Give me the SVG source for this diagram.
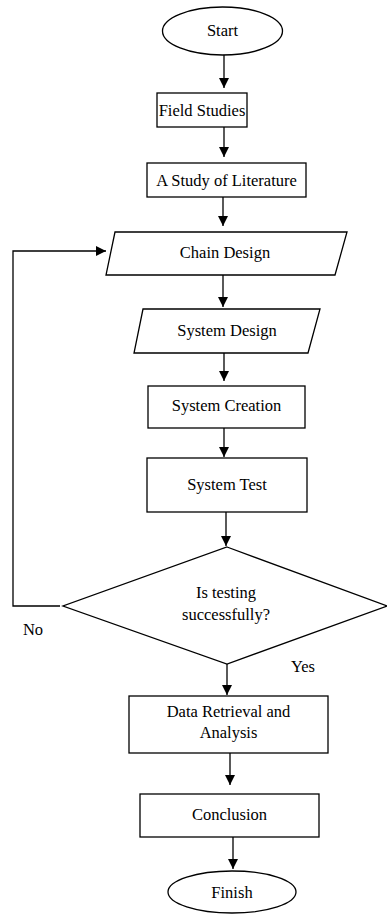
<svg xmlns="http://www.w3.org/2000/svg" width="387" height="914" viewBox="0 0 387 914">
<style>
.s{fill:#fff;stroke:#000;stroke-width:1.3}
.t{font-family:'Liberation Serif','DejaVu Serif',serif;font-size:16.5px;fill:#000;text-anchor:middle}
.c{fill:none;stroke:#000;stroke-width:1.3}
</style>
<defs>
<marker id="a" viewBox="0 0 10 10" refX="10" refY="5" markerWidth="10" markerHeight="10" markerUnits="userSpaceOnUse" orient="auto">
<path d="M0,0 L10,5 L0,10 z" fill="#000"/>
</marker>
</defs>
<rect width="387" height="914" fill="#fff"/>
<g id="connectors">
<path class="c" d="M224,55 V88" marker-end="url(#a)"/>
<path class="c" d="M224,127 V157" marker-end="url(#a)"/>
<path class="c" d="M223,197 V226" marker-end="url(#a)"/>
<path class="c" d="M223,275 V307" marker-end="url(#a)"/>
<path class="c" d="M224,353 V381" marker-end="url(#a)"/>
<path class="c" d="M224,428 V457" marker-end="url(#a)"/>
<path class="c" d="M226,512 V546" marker-end="url(#a)"/>
<path class="c" d="M60,606 H13 V251 H106" marker-end="url(#a)"/>
<path class="c" d="M227,664 V695" marker-end="url(#a)"/>
<path class="c" d="M230,753 V785" marker-end="url(#a)"/>
<path class="c" d="M233,837 V869" marker-end="url(#a)"/>
<text class="t" x="33" y="635">No</text>
<text class="t" x="303" y="672">Yes</text>
</g>
<g id="start">
<ellipse class="s" cx="222.5" cy="31" rx="60" ry="24"/>
<text class="t" x="222.5" y="36">Start</text>
</g>
<g id="field">
<rect class="s" x="157" y="93" width="90" height="34"/>
<text class="t" x="202" y="115.5">Field Studies</text>
</g>
<g id="literature">
<rect class="s" x="147" y="163" width="159" height="34"/>
<text class="t" x="226.5" y="185.5">A Study of Literature</text>
</g>
<g id="chain">
<polygon class="s" points="115,232 347,232 335,275 106,275"/>
<text class="t" x="225" y="258">Chain Design</text>
</g>
<g id="sysdesign">
<polygon class="s" points="143,309 320,309 308,353 134,353"/>
<text class="t" x="227" y="336">System Design</text>
</g>
<g id="creation">
<rect class="s" x="148" y="386" width="157" height="42"/>
<text class="t" x="226.5" y="411">System Creation</text>
</g>
<g id="test">
<rect class="s" x="147" y="458" width="160" height="54"/>
<text class="t" x="227" y="490">System Test</text>
</g>
<g id="decision">
<polygon class="s" points="227,547 387,606 227,664 63,606"/>
<text class="t" x="226" y="598">Is testing</text>
<text class="t" x="226" y="620">successfully?</text>
</g>
<g id="data">
<rect class="s" x="129" y="696" width="199" height="57"/>
<text class="t" x="228.5" y="717">Data Retrieval and</text>
<text class="t" x="228.5" y="738">Analysis</text>
</g>
<g id="conclusion">
<rect class="s" x="140" y="794" width="179" height="43"/>
<text class="t" x="229.5" y="820">Conclusion</text>
</g>
<g id="finish">
<ellipse class="s" cx="232" cy="892" rx="64" ry="21"/>
<text class="t" x="232" y="897.5">Finish</text>
</g>
</svg>
